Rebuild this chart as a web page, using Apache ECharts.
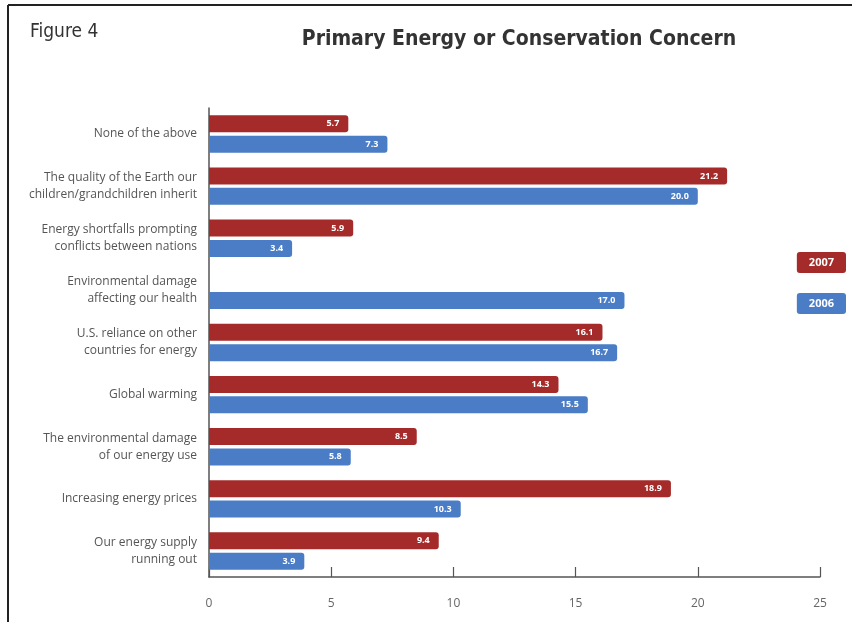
<!DOCTYPE html>
<html>
<head>
<meta charset="utf-8">
<script src="https://cdn.jsdelivr.net/npm/echarts@6/dist/echarts.min.js"></script>
<style>html,body{margin:0;padding:0;background:#fff;}#c{width:852px;height:622px;}</style>
</head>
<body>
<div id="c"></div>
<script>
var categories = [
  "None of the above",
  "The quality of the Earth our\nchildren/grandchildren inherit",
  "Energy shortfalls prompting\nconflicts between nations",
  "Environmental damage\naffecting our health",
  "U.S. reliance on other\ncountries for energy",
  "Global warming",
  "The environmental damage\nof our energy use",
  "Increasing energy prices",
  "Our energy supply\nrunning out"
];
var values2007 = [5.7, 21.2, 5.9, null, 16.1, 14.3, 8.5, 18.9, 9.4];
var values2006 = [7.3, 20.0, 3.4, 17.0, 16.7, 15.5, 5.8, 10.3, 3.9];
var seriesNames = ["2007", "2006"];
var xTicks = [0, 5, 10, 15, 20, 25];

var RED = "#A52B2B", BLUE = "#4A7DC6";
var COND = "'DejaVu Sans Condensed', 'DejaVu Sans', sans-serif";
var chart = echarts.init(document.getElementById('c'), null, {renderer: 'canvas'});
function barLabel() {
  return {show: true, position: 'insideRight', distance: 9, color: '#fff', fontSize: 9, fontWeight: 'bold',
    fontFamily: 'Open Sans', formatter: function (p) { return p.value == null ? '' : Number(p.value).toFixed(1); }};
}
chart.setOption({
  animation: false,
  backgroundColor: '#fff',
  title: [{
    text: 'Primary Energy or Conservation Concern', left: 514, top: 24, textAlign: 'center',
    textStyle: {fontFamily: COND, fontWeight: 'bold', fontSize: 21, color: '#333'}
  }, {
    text: 'Figure 4', left: 25, top: 18,
    textStyle: {fontFamily: COND, fontWeight: 'normal', fontSize: 19, color: '#333'}
  }],
  legend: {
    orient: 'vertical', right: 1, top: 247, itemGap: 20, icon: 'none', itemWidth: 0, itemHeight: 0, selectedMode: false,
    data: [
      {name: seriesNames[0], textStyle: {backgroundColor: RED, color: '#fff', fontWeight: 'bold', fontSize: 11, padding: [5, 12], borderRadius: 3, fontFamily: 'Open Sans'}},
      {name: seriesNames[1], textStyle: {backgroundColor: BLUE, color: '#fff', fontWeight: 'bold', fontSize: 11, padding: [5, 12], borderRadius: 3, fontFamily: 'Open Sans'}}
    ]
  },
  grid: {left: 209, right: 32, top: 108, bottom: 45},
  xAxis: {
    type: 'value', min: xTicks[0], max: xTicks[xTicks.length - 1], interval: 5,
    axisLine: {show: true, lineStyle: {color: '#555', width: 1.5}},
    axisTick: {show: true, inside: true, length: 10, lineStyle: {color: '#555', width: 1.2}},
    axisLabel: {color: '#666', fontSize: 12, margin: 21, fontFamily: 'Open Sans'},
    splitLine: {show: false}
  },
  yAxis: {
    type: 'category', data: categories, inverse: true,
    axisLine: {show: true, lineStyle: {color: '#555', width: 1.5}},
    axisTick: {show: false},
    axisLabel: {color: '#555', fontSize: 12, margin: 12, lineHeight: 17, fontFamily: 'Open Sans', align: 'right'}
  },
  series: [{
    name: seriesNames[0], type: 'bar', data: values2007, barWidth: 17, barGap: '20%',
    itemStyle: {color: RED, borderRadius: [0, 3, 3, 0]}, label: barLabel()
  }, {
    name: seriesNames[1], type: 'bar', data: values2006, barWidth: 17,
    itemStyle: {color: BLUE, borderRadius: [0, 3, 3, 0]}, label: barLabel()
  }],
  graphic: [
    {type: 'line', shape: {x1: 8, y1: 5, x2: 852, y2: 5}, style: {stroke: '#222', lineWidth: 2}},
    {type: 'line', shape: {x1: 8, y1: 5, x2: 8, y2: 622}, style: {stroke: '#222', lineWidth: 2}}
  ]
});
</script>
</body>
</html>
